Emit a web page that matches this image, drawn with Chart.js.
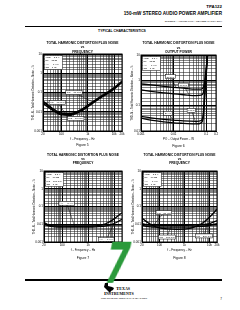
<!DOCTYPE html>
<html><head><meta charset="utf-8">
<script src="https://cdn.jsdelivr.net/npm/chart.js@4"></script>
<style>
html,body{margin:0;padding:0;background:#fff;}
#page{position:relative;width:240px;height:310px;overflow:hidden;background:#fff;font-family:"Liberation Sans",Arial,sans-serif;color:#000;}
.t{position:absolute;white-space:nowrap;line-height:1;}
canvas{position:absolute;}
</style></head><body><div id="page">
<div class="t" style="right:18px;top:5px;font-size:4.4px;font-weight:bold">TPA122</div>
<div class="t" style="right:18px;top:11.5px;font-size:4.6px;font-weight:bold">150-mW STEREO AUDIO POWER AMPLIFIER</div>
<div class="t" style="right:18px;top:20.5px;font-size:2.4px;">SLOS212 – AUGUST 1998 – REVISED MARCH 2004</div>
<div style="position:absolute;left:25px;top:25.5px;width:197px;height:1.5px;background:#000"></div>
<div class="t" style="left:0;width:244px;text-align:center;top:30.3px;font-size:3.4px;font-weight:bold">TYPICAL CHARACTERISTICS</div>
<canvas id="c1" width="126" height="114" style="left:0;top:36px"></canvas>
<canvas id="c2" width="114" height="114" style="left:126px;top:36px"></canvas>
<canvas id="c3" width="126" height="112" style="left:0;top:150px"></canvas>
<canvas id="c4" width="114" height="112" style="left:126px;top:150px"></canvas>
<div style="position:absolute;left:25px;top:279px;width:197px;height:1.5px;background:#000"></div>
<svg style="position:absolute;left:104px;top:282px" width="11" height="11" viewBox="0 0 11 11"><path d="M1 1 L4 1 L4 4 L8 5 L10 6 L9 8 L7 9 L6 11 L4 9 L2 7 L0 5 Z" fill="#000"/></svg>
<div class="t" style="left:116px;top:285.5px;font-size:5px;font-family:'Liberation Serif',serif;font-weight:bold">T<span style="font-size:4px">EXAS</span></div>
<div class="t" style="left:104px;top:291px;font-size:5px;font-family:'Liberation Serif',serif;font-weight:bold">I<span style="font-size:4px">NSTRUMENTS</span></div>
<div class="t" style="left:0;width:248px;text-align:center;top:298px;font-size:1.9px;">POST OFFICE BOX 655303 • DALLAS, TEXAS 75265</div>
<div class="t" style="right:18px;top:297.5px;font-size:3px;">7</div>
<div class="t" style="left:98px;top:236.4px;width:39px;text-align:center;font-size:56px;font-family:'DejaVu Sans',sans-serif;font-weight:bold;color:#2b9a3b;transform:skewX(-12deg) scaleX(0.62);transform-origin:50% 50%;">7</div>
</div>
<script>
// ---------- data ----------
const freq = [20, 30, 50, 100, 200, 500, 1000, 2000, 5000, 10000, 20000];
const fig5_10mW = [0.028, 0.018, 0.011, 0.0068, 0.0065, 0.010, 0.018, 0.035, 0.080, 0.15, 0.33];
const fig5_15mW = [0.032, 0.021, 0.012, 0.0075, 0.0070, 0.011, 0.020, 0.038, 0.085, 0.16, 0.36];
const fig5_30mW = [0.036, 0.024, 0.014, 0.0085, 0.0080, 0.012, 0.022, 0.042, 0.095, 0.18, 0.40];

const power = [0.001, 0.002, 0.005, 0.01, 0.02, 0.05, 0.07, 0.08, 0.09, 0.1, 0.11];
const fig6_20kHz = [0.72, 0.66, 0.58, 0.53, 0.49, 0.45, 0.45, 0.50, 0.9, 3, 10];
const fig6_10kHz = [0.42, 0.37, 0.32, 0.29, 0.27, 0.25, 0.26, 0.30, 0.7, 2.5, 10];
const fig6_1kHz  = [0.032, 0.027, 0.023, 0.021, 0.020, 0.019, 0.021, 0.030, 0.2, 1.5, 10];
const fig6_20Hz  = [0.038, 0.033, 0.029, 0.027, 0.025, 0.024, 0.026, 0.040, 0.3, 2, 10];

const fig7_av5 = [0.013, 0.009, 0.008, 0.0078, 0.0077, 0.0077, 0.0078, 0.008, 0.011, 0.020, 0.045];
const fig7_av1 = [0.011, 0.008, 0.0072, 0.0070, 0.0070, 0.0070, 0.0070, 0.0072, 0.008, 0.011, 0.019];

const fig8_50uW  = [0.022, 0.014, 0.009, 0.0062, 0.0055, 0.0052, 0.0053, 0.0062, 0.011, 0.025, 0.07];
const fig8_100uW = [0.011, 0.0095, 0.009, 0.0088, 0.0087, 0.0087, 0.0087, 0.009, 0.0095, 0.011, 0.016];
const fig8_200uW = [0.009, 0.0075, 0.007, 0.0068, 0.0068, 0.0068, 0.0068, 0.007, 0.0075, 0.0085, 0.011];

const yTickVals = [0.001, 0.01, 0.1, 1, 10];
const yTickText = ['0.001', '0.01', '0.1', '1', '10'];
const freqTickVals = [20, 100, 1000, 10000, 20000];
const freqTickText = ['20', '100', '1k', '10k', '20k'];
const powerTickVals = [0.001, 0.01, 0.1, 0.2];
const powerTickText = ['0.001', '0.01', '0.1', '0.2'];

const thdTitle = 'THD+N – Total Harmonic Distortion + Noise – %';
const freqTitle = 'f – Frequency – Hz';
const powerTitle = 'PO – Output Power – W';
const titleFreq = ['TOTAL HARMONIC DISTORTION PLUS NOISE', 'vs', 'FREQUENCY'];
const titlePower = ['TOTAL HARMONIC DISTORTION PLUS NOISE', 'vs', 'OUTPUT POWER'];
const cond32 = ['VDD = 3.3 V', 'RL = 32 Ω', 'AV = –1 V/V', 'CB = 1 µF'];
const cond10kPo = ['VDD = 3.3 V', 'RL = 10 kΩ', 'PO = 100 µW', 'CB = 1 µF'];
const cond10kAv = ['VDD = 3.3 V', 'RL = 10 kΩ', 'AV = –1 V/V', 'CB = 1 µF'];

// ---------- helpers ----------
const FONT = 'Liberation Sans';
function isDecade(v){ const l = Math.log10(v); return Math.abs(l - Math.round(l)) < 1e-6; }
function tickCb(vals, txt){
  return function(v){ const i = vals.findIndex(t => Math.abs(t - v) / t < 1e-6); return i >= 0 ? txt[i] : ''; };
}
function pts(xs, ys){ return xs.map((x, i) => ({x: x, y: ys[i]})); }

const textPlugin = {
  id: 'pageText',
  afterDatasetsDraw(chart, args, o){
    const ctx = chart.ctx, a = chart.chartArea, sx = chart.scales.x, sy = chart.scales.y;
    const cx = (a.left + a.right) / 2;
    ctx.save();
    ctx.fillStyle = '#000'; ctx.textAlign = 'center'; ctx.textBaseline = 'middle';
    ctx.font = 'bold 3.3px "' + FONT + '"';
    o.title.forEach((t, i) => ctx.fillText(t, cx, o.titleY[i]));
    ctx.font = '3.4px "' + FONT + '"';
    ctx.fillText(o.fig, cx, o.figY);
    const bx = a.left + 1.5, by = a.top + 1.5, bw = 18, bh = 14;
    ctx.fillStyle = '#fff'; ctx.fillRect(bx, by, bw, bh);
    ctx.strokeStyle = '#000'; ctx.lineWidth = 0.5; ctx.strokeRect(bx, by, bw, bh);
    ctx.fillStyle = '#000'; ctx.textAlign = 'left'; ctx.font = '2.5px "' + FONT + '"';
    o.box.forEach((t, i) => ctx.fillText(t, bx + 1, by + 2 + i * 3.3));
    ctx.textAlign = 'center';
    o.labels.forEach(l => {
      const x = sx.getPixelForValue(l.at[0]), y = sy.getPixelForValue(l.at[1]);
      const tx = sx.getPixelForValue(l.to[0]), ty = sy.getPixelForValue(l.to[1]);
      ctx.strokeStyle = '#000'; ctx.lineWidth = 0.5;
      ctx.beginPath(); ctx.moveTo(x, y); ctx.lineTo(tx, ty); ctx.stroke();
      const w = ctx.measureText(l.t).width + 2;
      ctx.fillStyle = '#fff'; ctx.fillRect(x - w / 2, y - 2, w, 4);
      ctx.strokeRect(x - w / 2, y - 2, w, 4);
      ctx.fillStyle = '#000'; ctx.fillText(l.t, x, y + 0.2);
    });
    ctx.restore();
  },
  afterDraw(chart){
    const ctx = chart.ctx, a = chart.chartArea;
    ctx.save(); ctx.strokeStyle = '#000'; ctx.lineWidth = 1;
    ctx.strokeRect(a.left, a.top, a.right - a.left, a.bottom - a.top);
    ctx.restore();
  }
};

function makeChart(id, c){
  const gridColor = ctx => isDecade(ctx.tick.value) ? '#000' : '#1e1e1e';
  const gridWidth = ctx => isDecade(ctx.tick.value) ? 1 : 0.55;
  new Chart(document.getElementById(id), {
    type: 'line',
    data: { datasets: c.series.map(s => ({
      data: pts(s[0], s[1]), borderColor: '#000', borderWidth: 1.3, pointRadius: 0,
      cubicInterpolationMode: 'monotone', fill: false })) },
    options: {
      responsive: false, animation: false, devicePixelRatio: 1,
      layout: { padding: c.pad },
      plugins: { legend: {display: false}, tooltip: {enabled: false}, pageText: c.text },
      scales: {
        x: { type: 'logarithmic', min: c.xMin, max: c.xMax,
          afterFit: s => { s.height = 12; },
          ticks: { autoSkip: false, maxRotation: 0, padding: 1.2, color: '#000',
            font: {family: FONT, size: 3}, callback: tickCb(c.xVals, c.xText) },
          grid: { drawTicks: false, color: gridColor, lineWidth: gridWidth },
          border: { color: '#000', width: 1 },
          title: { display: true, text: c.xTitle, color: '#000', font: {family: FONT, size: 2.9},
            padding: {top: 0, bottom: c.xTitlePad} } },
        y: { type: 'logarithmic', min: c.yMin, max: 10,
          afterFit: s => { s.width = c.yW; },
          ticks: { autoSkip: false, padding: 1.2, color: '#000',
            font: {family: FONT, size: 3}, callback: tickCb(yTickVals, yTickText) },
          grid: { drawTicks: false, color: gridColor, lineWidth: gridWidth },
          border: { color: '#000', width: 1 },
          title: { display: true, text: thdTitle, color: '#000', font: {family: FONT, size: 2.6},
            padding: {top: 0.3, bottom: 0} } }
      }
    },
    plugins: [textPlugin]
  });
}

makeChart('c1', {
  pad: {left: 31, right: 4, top: 18, bottom: 7}, yW: 12, xTitlePad: 2,
  xMin: 20, xMax: 20000, xVals: freqTickVals, xText: freqTickText, xTitle: freqTitle, yMin: 0.001,
  series: [[freq, fig5_10mW], [freq, fig5_15mW], [freq, fig5_30mW]],
  text: { title: titleFreq, titleY: [7, 11.5, 16], fig: 'Figure 5', figY: 109.5, box: cond32,
    labels: [ {t: 'PO = 30 mW', at: [300, 0.1], to: [1500, 0.033]},
              {t: 'PO = 15 mW', at: [70, 0.03], to: [140, 0.0085]},
              {t: 'PO = 10 mW', at: [350, 0.0045], to: [200, 0.0066]} ] }
});
makeChart('c2', {
  pad: {left: 4, right: 24, top: 19, bottom: 7}, yW: 11, xTitlePad: 2,
  xMin: 0.001, xMax: 0.2, xVals: powerTickVals, xText: powerTickText, xTitle: powerTitle, yMin: 0.01,
  series: [[power, fig6_20kHz], [power, fig6_10kHz], [power, fig6_1kHz], [power, fig6_20Hz]],
  text: { title: titlePower, titleY: [7.5, 12, 16.5], fig: 'Figure 6', figY: 110, box: cond32,
    labels: [ {t: '20 kHz', at: [0.008, 1.4], to: [0.012, 0.52]},
              {t: '10 kHz', at: [0.02, 0.65], to: [0.03, 0.265]},
              {t: '1 kHz', at: [0.035, 0.065], to: [0.05, 0.019]},
              {t: '20 Hz', at: [0.0067, 0.05], to: [0.01, 0.027]} ] }
});
makeChart('c3', {
  pad: {left: 32, right: 4, top: 21, bottom: 8}, yW: 12, xTitlePad: 2,
  xMin: 20, xMax: 20000, xVals: freqTickVals, xText: freqTickText, xTitle: freqTitle, yMin: 0.001,
  series: [[freq, fig7_av5], [freq, fig7_av1]],
  text: { title: titleFreq, titleY: [5, 9, 13], fig: 'Figure 7', figY: 108, box: cond10kPo,
    labels: [ {t: 'AV = –5 V/V', at: [150, 0.15], to: [300, 0.0078]},
              {t: 'AV = –1 V/V', at: [5000, 0.0014], to: [10000, 0.011]} ] }
});
makeChart('c4', {
  pad: {left: 5, right: 23, top: 21, bottom: 8}, yW: 11, xTitlePad: 2,
  xMin: 20, xMax: 20000, xVals: freqTickVals, xText: freqTickText, xTitle: freqTitle, yMin: 0.001,
  series: [[freq, fig8_50uW], [freq, fig8_100uW], [freq, fig8_200uW]],
  text: { title: titleFreq, titleY: [5, 9, 13], fig: 'Figure 8', figY: 108, box: cond10kAv,
    labels: [ {t: 'PO = 50 µW', at: [150, 0.045], to: [60, 0.0095]},
              {t: 'PO = 100 µW', at: [200, 0.0019], to: [300, 0.0087]},
              {t: 'PO = 200 µW', at: [6000, 0.0022], to: [8000, 0.0082]} ] }
});
</script>
</body></html>
